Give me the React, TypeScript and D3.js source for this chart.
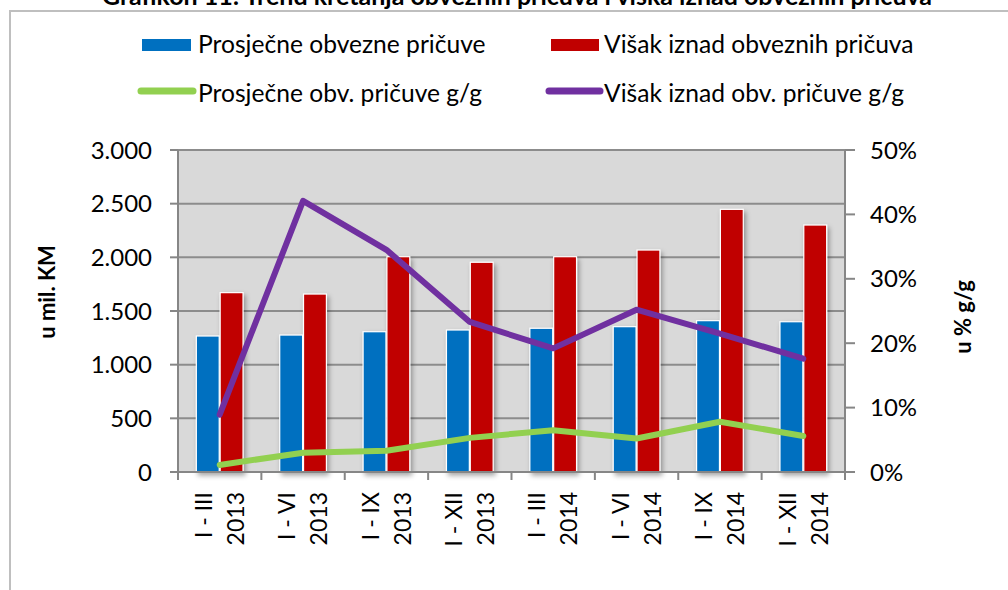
import * as d3 from 'd3';

const periods = ['I - III', 'I - VI', 'I - IX', 'I - XII', 'I - III', 'I - VI', 'I - IX', 'I - XII'];
const years = ['2013', '2013', '2013', '2013', '2014', '2014', '2014', '2014'];
const obvezne = [1267, 1276, 1307, 1323, 1339, 1354, 1410, 1400];
const visak = [1671, 1658, 2006, 1954, 2006, 2068, 2447, 2301];
const obvezneGG = [1.1, 3.0, 3.3, 5.3, 6.5, 5.2, 7.8, 5.6];
const visakGG = [8.9, 42.1, 34.5, 23.3, 19.2, 25.2, 21.5, 17.6];
const leftTicks = [0, 500, 1000, 1500, 2000, 2500, 3000];
const rightTicks = [0, 10, 20, 30, 40, 50];

const FONT = 'Lato, "Open Sans", sans-serif';
const BLUE = '#0070c0';
const RED = '#c00000';
const GREEN = '#92d050';
const PURPLE = '#7030a0';

export default function App() {
  const margin = { left: 178, right: 845, top: 150, bottom: 472 };
  const keys = periods.map((p, i) => i);

  const x = d3.scaleBand<number>().domain(keys).range([margin.left, margin.right]).padding(0);
  const bw = x.bandwidth();
  const groupW = bw * 0.56;
  const x1 = d3
    .scaleBand<string>()
    .domain(['obvezne', 'visak'])
    .range([(bw - groupW) / 2, (bw + groupW) / 2])
    .paddingInner(0.04);
  const y = d3.scaleLinear().domain([0, 3000]).range([margin.bottom, margin.top]);
  const y2 = d3.scaleLinear().domain([0, 50]).range([margin.bottom, margin.top]);

  const cx = (i: number) => (x(i) as number) + bw / 2;
  const line = d3
    .line<number>()
    .x((d, i) => cx(i))
    .y((d) => y2(d));

  const fmt = (v: number) => d3.format(',')(v).replace(/,/g, '.');

  return (
    <svg
      width={1008}
      height={590}
      style={{ position: 'absolute', left: 0, top: 0, background: '#fff' }}
      fontFamily={FONT}
    >
      <defs>
        <filter id="shadow" x="-30%" y="-10%" width="160%" height="130%">
          <feDropShadow dx="2" dy="3" stdDeviation="2.5" floodColor="#000" floodOpacity="0.35" />
        </filter>
      </defs>

      {/* title, cut off at the top like in the source */}
      <text x={517} y={5} textAnchor="middle" fontWeight="bold" fontSize={25} fill="#000">
        Grafikon 11: Trend kretanja obveznih pričuva i viška iznad obveznih pričuva
      </text>
      <rect x={10} y={11} width={1020} height={600} fill="none" stroke="#bfbfbf" strokeWidth={2} />

      {/* legend */}
      <g fontSize={24.6} fill="#000">
        <rect x={142} y={39} width={49} height={12} fill={BLUE} />
        <text x={198} y={53}>Prosječne obvezne pričuve</text>
        <rect x={551} y={39} width={48} height={12} fill={RED} />
        <text x={604} y={53}>Višak iznad obveznih pričuva</text>
        <line x1={141} x2={193} y1={91} y2={91} stroke={GREEN} strokeWidth={7} strokeLinecap="round" />
        <text x={198} y={102}>Prosječne obv. pričuve g/g</text>
        <line x1={549} x2={600} y1={91} y2={91} stroke={PURPLE} strokeWidth={7} strokeLinecap="round" />
        <text x={604} y={102}>Višak iznad obv. pričuve g/g</text>
      </g>

      {/* plot area */}
      <rect
        x={margin.left}
        y={margin.top}
        width={margin.right - margin.left}
        height={margin.bottom - margin.top}
        fill="#d9d9d9"
      />
      {leftTicks.map((t) => (
        <line key={'g' + t} x1={margin.left} x2={margin.right} y1={y(t)} y2={y(t)} stroke="#8c8c8c" strokeWidth={2} />
      ))}

      {/* bars */}
      {keys.map((i) => (
        <g key={'b' + i} transform={`translate(${x(i)},0)`} filter="url(#shadow)">
          <rect
            x={x1('obvezne')}
            y={y(obvezne[i])}
            width={x1.bandwidth()}
            height={y(0) - y(obvezne[i])}
            fill={BLUE}
            stroke="#fff"
            strokeWidth={1.2}
          />
          <rect
            x={x1('visak')}
            y={y(visak[i])}
            width={x1.bandwidth()}
            height={y(0) - y(visak[i])}
            fill={RED}
            stroke="#fff"
            strokeWidth={1.2}
          />
        </g>
      ))}

      {/* axes */}
      <g stroke="#868686" strokeWidth={2}>
        <line x1={margin.left} x2={margin.left} y1={margin.top} y2={margin.bottom} />
        <line x1={margin.right} x2={margin.right} y1={margin.top} y2={margin.bottom} />
        <line x1={margin.left} x2={margin.right} y1={margin.bottom} y2={margin.bottom} />
        {leftTicks.map((t) => (
          <line key={'lt' + t} x1={margin.left - 8} x2={margin.left} y1={y(t)} y2={y(t)} />
        ))}
        {rightTicks.map((t) => (
          <line key={'rt' + t} x1={margin.right} x2={margin.right + 10} y1={y2(t)} y2={y2(t)} />
        ))}
        {[...keys, keys.length].map((i) => {
          const xx = i < keys.length ? (x(i) as number) : margin.right;
          return <line key={'xt' + i} x1={xx} x2={xx} y1={margin.bottom} y2={margin.bottom + 8} />;
        })}
      </g>

      {/* lines */}
      <path d={line(obvezneGG) as string} fill="none" stroke={GREEN} strokeWidth={6} strokeLinejoin="round" strokeLinecap="round" />
      <path d={line(visakGG) as string} fill="none" stroke={PURPLE} strokeWidth={6} strokeLinejoin="round" strokeLinecap="round" />

      {/* tick labels */}
      <g fontSize={24} fill="#000">
        {leftTicks.map((t) => (
          <text key={'ll' + t} x={152} y={y(t)} dy="0.36em" textAnchor="end">
            {fmt(t)}
          </text>
        ))}
        {rightTicks.map((t) => (
          <text key={'rl' + t} x={870} y={y2(t)} dy="0.36em">
            {t + '%'}
          </text>
        ))}
      </g>
      <g fontSize={23} fill="#000">
        {keys.map((i) => (
          <g key={'xl' + i} transform={`translate(${cx(i)},492) rotate(-90)`}>
            <text x={0} y={-16} dy="0.36em" textAnchor="end">
              {periods[i]}
            </text>
            <text x={0} y={16} dy="0.36em" textAnchor="end">
              {years[i]}
            </text>
          </g>
        ))}
      </g>

      {/* axis titles */}
      <text transform="translate(47,292) rotate(-90)" textAnchor="middle" dy="0.36em" fontWeight="bold" fontSize={22}>
        u mil. KM
      </text>
      <text transform="translate(963,317) rotate(-90)" textAnchor="middle" dy="0.36em" fontWeight="bold" fontSize={22}>
        u % g/g
      </text>
    </svg>
  );
}
